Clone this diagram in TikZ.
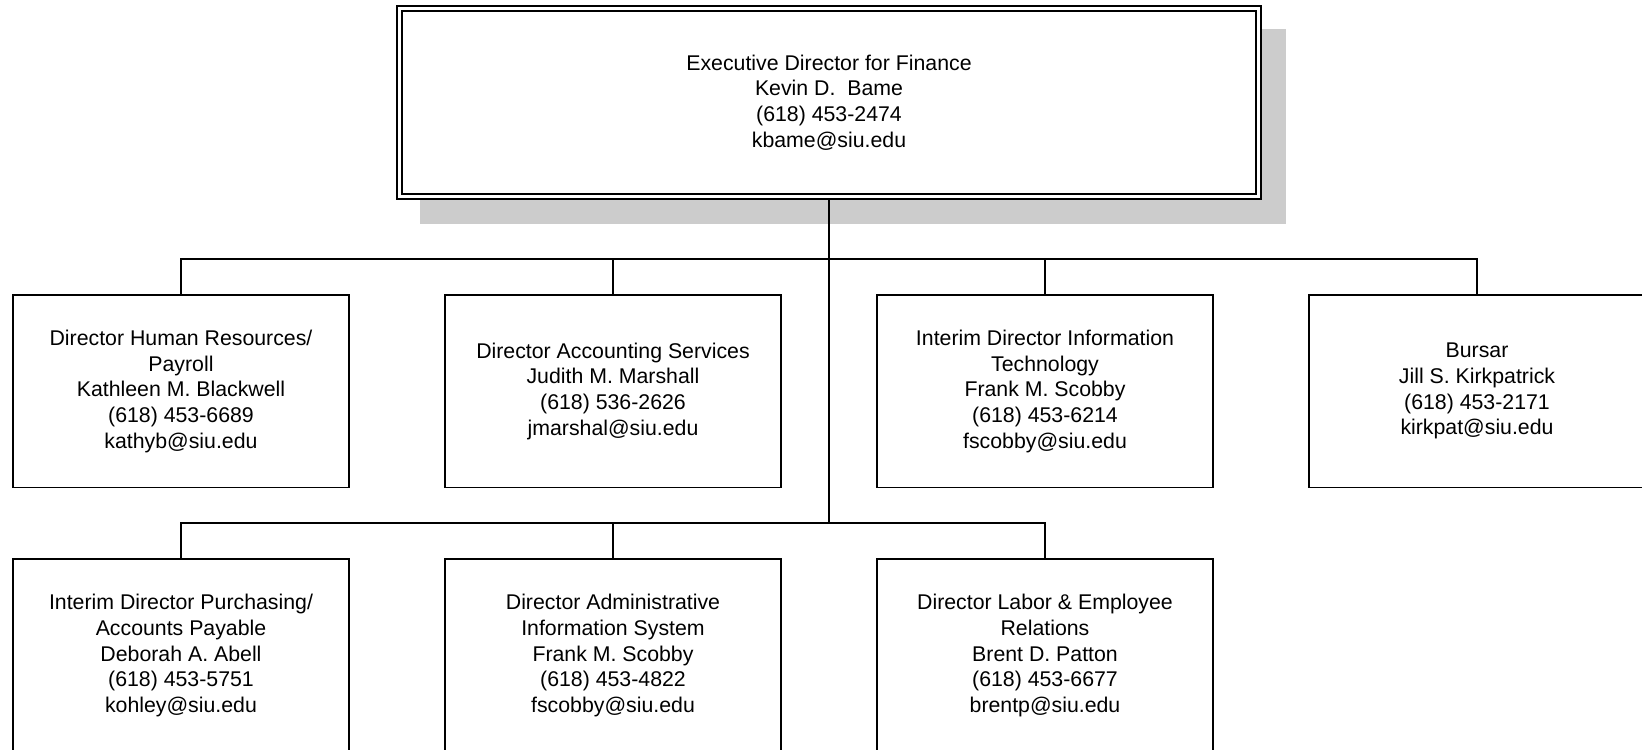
\documentclass[tikz,border=0pt]{standalone}
\usepackage{fontspec}
\setmainfont{Liberation Sans}
\usetikzlibrary{backgrounds}
\definecolor{shadowgray}{RGB}{204,204,204}

\begin{document}
\begin{tikzpicture}[x=0.5pt, y=-0.5pt,
    box/.style={draw, line width=0.9pt, minimum width=168pt, minimum height=96.2pt,
        inner sep=0pt, align=center, font=\fontsize{10.65}{12.85}\selectfont},
    chief/.style={box, fill=white, double, double distance=1.6pt,
        minimum width=429.5pt, minimum height=94.25pt, outer sep=1.7pt},
    link/.style={line width=0.9pt}]

        \useasboundingbox (0,0) rectangle (1642,749);
        \clip (0,0) rectangle (1642,749);

        \node[chief] (exec) at (829,102.5) {Executive Director for Finance\\Kevin D.\ \ Bame\\(618) 453-2474\\kbame@siu.edu};
        \begin{scope}[on background layer]
            \fill[shadowgray] ([shift={(24,24)}]exec.north west) rectangle ([shift={(24,24)}]exec.south east);
        \end{scope}

        \coordinate (bus1) at (829,259.2);
        \coordinate (bus2) at (829,523.2);

        \node[box] (hr) at (181,391.3) {Director Human Resources/\\Payroll\\Kathleen M. Blackwell\\(618) 453-6689\\kathyb@siu.edu};
        \node[box] (acct) at (613,391.3) {Director Accounting Services\\Judith M. Marshall\\(618) 536-2626\\jmarshal@siu.edu};
        \node[box] (it) at (1045,391.3) {Interim Director Information\\Technology\\Frank M. Scobby\\(618) 453-6214\\fscobby@siu.edu};
        \node[box] (bursar) at (1477,391.3) {Bursar\\Jill S. Kirkpatrick\\(618) 453-2171\\kirkpat@siu.edu};

        \node[box] (purch) at (181,655.5) {Interim Director Purchasing/\\Accounts Payable\\Deborah A. Abell\\(618) 453-5751\\kohley@siu.edu};
        \node[box] (ais) at (613,655.5) {Director Administrative\\Information System\\Frank M. Scobby\\(618) 453-4822\\fscobby@siu.edu};
        \node[box] (labor) at (1045,655.5) {Director Labor \& Employee\\Relations\\Brent D. Patton\\(618) 453-6677\\brentp@siu.edu};

        % trunk and the two rows of branches
        \draw[link] (exec.south) -- (bus2);
        \draw[link] (hr.north) |- (bus1) -| (bursar.north);
        \draw[link] (acct.north) -- (acct.north |- bus1);
        \draw[link] (it.north) -- (it.north |- bus1);
        \draw[link] (purch.north) |- (bus2) -| (labor.north);
        \draw[link] (ais.north) -- (ais.north |- bus2);

    \end{tikzpicture}
\end{document}
